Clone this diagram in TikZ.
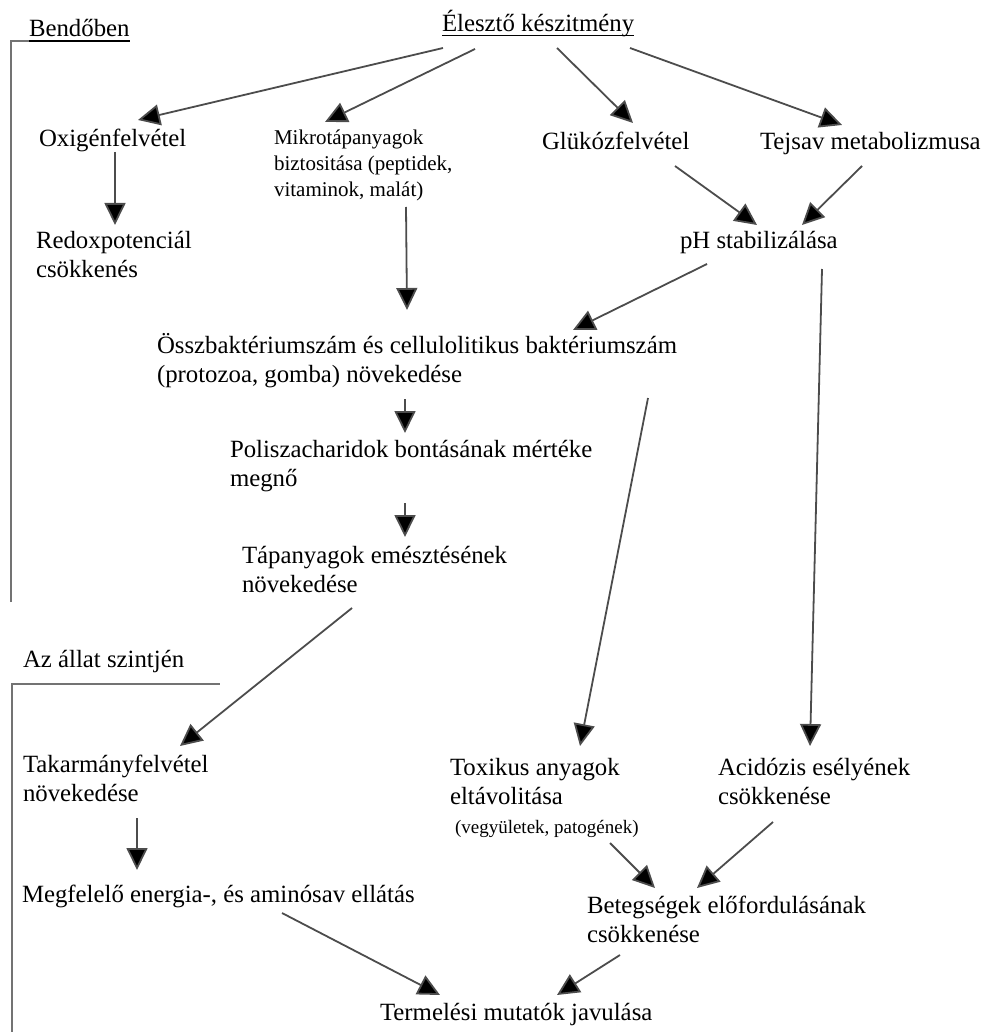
\documentclass[tikz,border=0pt]{standalone}
\usepackage{fontspec}
\setmainfont{Liberation Serif}
\usetikzlibrary{arrows.meta}
\newcommand{\mlines}[1]{\begin{tabular}[t]{@{}l@{}}#1\end{tabular}}
\tikzset{
  txt/.style={anchor=base west, inner sep=0pt, outer sep=0pt, font=\fontsize{24.8}{29}\selectfont},
  smalltxt/.style={txt, font=\fontsize{21}{26}\selectfont},
  arr/.style={draw=black!70, line width=1.8pt, -{Triangle[length=22pt,width=21pt,fill=black]}},
  brk/.style={draw=black!55, line width=1.8pt},
  uline/.style={draw=black, line width=1.4pt}
}
\begin{document}
\begin{tikzpicture}[x=1pt,y=-1pt]
\useasboundingbox (0,0) rectangle (984,1032);
% nodes
\node[txt] (bend) at (29,37) {Bendőben};
\node[txt] (title) at (442,32) {Élesztő készitmény};
\node[txt] (oxi) at (39,147) {Oxigénfelvétel};
\node[smalltxt] (mikro) at (274,145) {\mlines{Mikrotápanyagok\\biztositása (peptidek,\\vitaminok, malát)}};
\node[txt] (gluk) at (542,150) {Glükózfelvétel};
\node[txt] (tejsav) at (760,150) {Tejsav metabolizmusa};
\node[txt] (redox) at (36,248) {\mlines{Redoxpotenciál\\csökkenés}};
\node[txt] (ph) at (680,248) {pH stabilizálása};
\node[txt] (ossz) at (157,353) {\mlines{Összbaktériumszám és cellulolitikus baktériumszám\\(protozoa, gomba) növekedése}};
\node[txt] (poli) at (230,457) {\mlines{Poliszacharidok bontásának mértéke\\megnő}};
\node[txt] (tap) at (242,563) {\mlines{Tápanyagok emésztésének\\növekedése}};
\node[txt] (allat) at (23,667) {Az állat szintjén};
\node[txt] (takar) at (23,772) {\mlines{Takarmányfelvétel\\növekedése}};
\node[txt] (megf) at (22,902) {Megfelelő energia-, és aminósav ellátás};
\node[txt] (tox) at (450,775) {\mlines{Toxikus anyagok\\eltávolitása\\\hspace{5pt}{\fontsize{19}{24}\selectfont (vegyületek, patogének)}}};
\node[txt] (acid) at (718,775) {\mlines{Acidózis esélyének\\csökkenése}};
\node[txt] (beteg) at (587,913) {\mlines{Betegségek előfordulásának\\csökkenése}};
\node[txt] (term) at (380,1020) {Termelési mutatók javulása};
% underlines
\draw[uline] ([yshift=-3.5pt]title.base west) -- ([yshift=-3.5pt]title.base east);
\draw[uline] ([yshift=-4pt]bend.base west) -- ([yshift=-4pt]bend.base east);
% brackets
\coordinate (b1) at (11,41);
\coordinate (b2) at (11,602);
\draw[brk] (b2) -- (b1) -- ([yshift=-4pt]bend.base west);
\coordinate (a1) at (12,1032);
\coordinate (a2) at (12,684);
\coordinate (a3) at (220,684);
\draw[brk] (a1) -- (a2) -- (a3);
% connectors
\draw[arr] ([shift={(1,16)}]title.base west) -- ([shift={(99,-27)}]oxi.base west);
\draw[arr] ([shift={(33,17)}]title.base west) -- ([shift={(51,-23)}]mikro.base west);
\draw[arr] ([shift={(115,16)}]title.base west) -- ([shift={(91,-27)}]gluk.base west);
\draw[arr] ([shift={(188,16)}]title.base west) -- ([shift={(82,-25)}]tejsav.base west);
\draw[arr] ([shift={(76,5)}]oxi.base west) -- ([shift={(79,-23)}]redox.base west);
\draw[arr] ([shift={(132,62)}]mikro.base west) -- ([shift={(250,-43)}]ossz.base west);
\draw[arr] ([shift={(133,16)}]gluk.base west) -- ([shift={(77,-23)}]ph.base west);
\draw[arr] ([shift={(102,16)}]tejsav.base west) -- ([shift={(122,-23)}]ph.base west);
\draw[arr] ([shift={(27,16)}]ph.base west) -- ([shift={(416,-23)}]ossz.base west);
\draw[arr] ([shift={(142,21)}]ph.base west) -- ([shift={(92,-29)}]acid.base west);
\draw[arr] ([shift={(491,45)}]ossz.base west) -- ([shift={(130,-29)}]tox.base west);
\draw[arr] ([shift={(248,46)}]ossz.base west) -- ([shift={(175,-24)}]poli.base west);
\draw[arr] ([shift={(175,46)}]poli.base west) -- ([shift={(163,-26)}]tap.base west);
\draw[arr] ([shift={(110,45)}]tap.base west) -- ([shift={(157,-26)}]takar.base west);
\draw[arr] ([shift={(114,46)}]takar.base west) -- ([shift={(115,-32)}]megf.base west);
\draw[arr] ([shift={(260,11)}]megf.base west) -- ([shift={(60,-25)}]term.base west);
\draw[arr] ([shift={(33,42)}]beteg.base west) -- ([shift={(177,-25)}]term.base west);
\draw[arr] ([shift={(160,68)}]tox.base west) -- ([shift={(68,-25)}]beteg.base west);
\draw[arr] ([shift={(55,47)}]acid.base west) -- ([shift={(110,-25)}]beteg.base west);
\end{tikzpicture}
\end{document}
